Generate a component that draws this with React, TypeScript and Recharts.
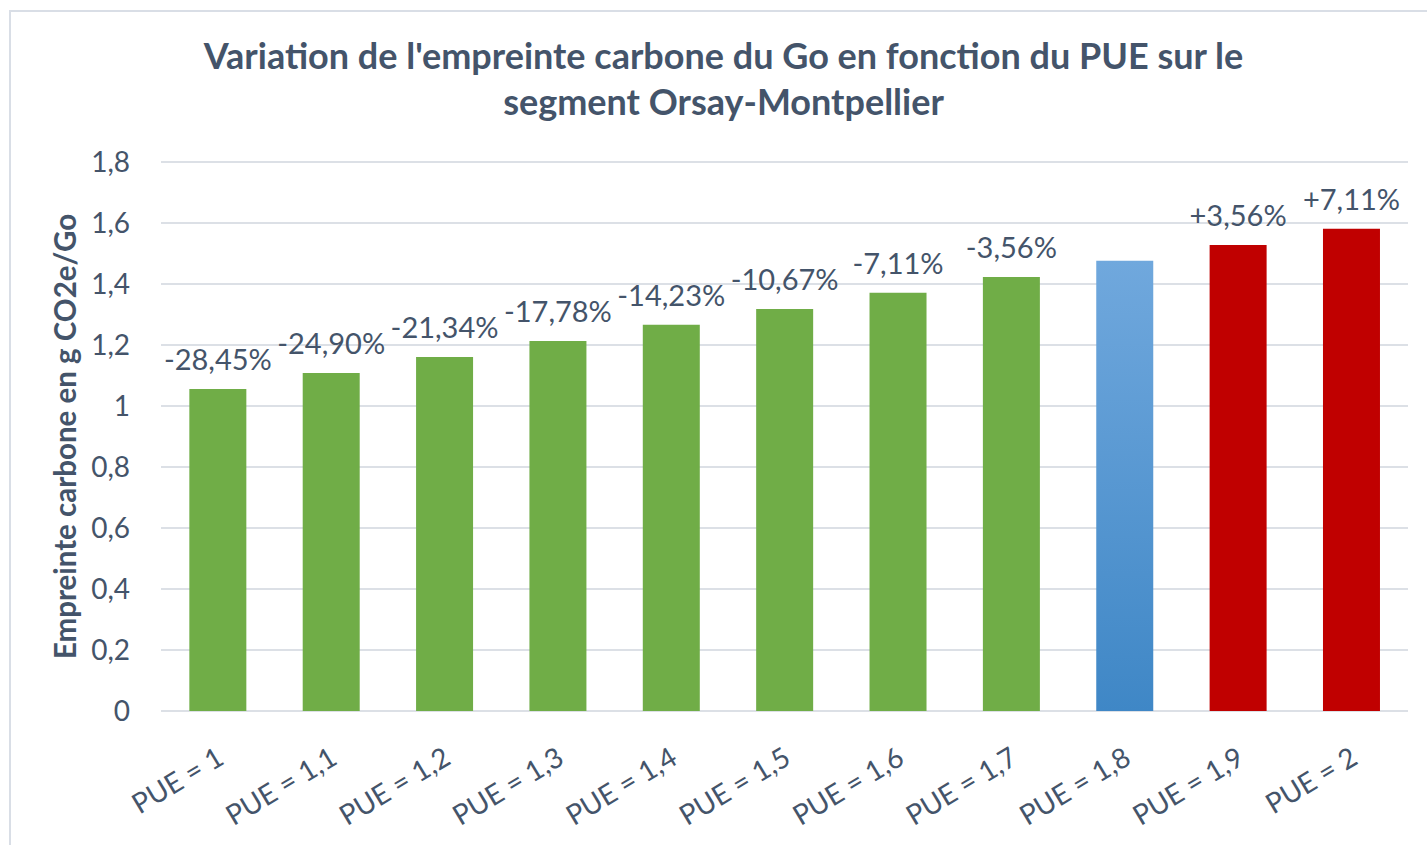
import React from "react";
import { Bar, BarChart, CartesianGrid, Cell, LabelList, XAxis, YAxis } from "recharts";

const categories = [
  "PUE = 1",
  "PUE = 1,1",
  "PUE = 1,2",
  "PUE = 1,3",
  "PUE = 1,4",
  "PUE = 1,5",
  "PUE = 1,6",
  "PUE = 1,7",
  "PUE = 1,8",
  "PUE = 1,9",
  "PUE = 2",
];
const footprint = [1.056, 1.108, 1.161, 1.213, 1.266, 1.318, 1.371, 1.423, 1.476, 1.528, 1.581];
const variations = [
  "-28,45%",
  "-24,90%",
  "-21,34%",
  "-17,78%",
  "-14,23%",
  "-10,67%",
  "-7,11%",
  "-3,56%",
  "",
  "+3,56%",
  "+7,11%",
];
const yTicks = [0, 0.2, 0.4, 0.6, 0.8, 1, 1.2, 1.4, 1.6, 1.8];
const referenceCategory = "PUE = 1,8";

const data = categories.map((name, i) => ({
  name,
  value: footprint[i],
  variation: variations[i],
}));

const TEXT = "#44546A";
const FONT = "Lato, 'Open Sans', sans-serif";
const refIndex = categories.indexOf(referenceCategory);

const barFill = (i: number) =>
  i < refIndex ? "#70AD47" : i === refIndex ? "url(#refGradient)" : "#C00000";

const frFormat = (v: number) => String(Math.round(v * 10) / 10).replace(".", ",");

function XTick({ x, y, payload }: any) {
  return (
    <g transform={`translate(${x + 8},${y + 44})`}>
      <text x={0} y={0} textAnchor="end" transform="rotate(-31)" fill={TEXT} fontSize={28} fontFamily={FONT}>
        {payload.value}
      </text>
    </g>
  );
}

function YTitle({ viewBox }: any) {
  const cy = viewBox.y + viewBox.height / 2;
  return (
    <text
      x={53}
      y={cy}
      transform={`rotate(-90, 53, ${cy})`}
      textAnchor="middle"
      dominantBaseline="central"
      fill={TEXT}
      fontSize={29.5}
      fontWeight="bold"
      fontFamily={FONT}
    >
      Empreinte carbone en g CO2e/Go
    </text>
  );
}

export default function App() {
  return (
    <div
      style={{
        position: "absolute",
        left: 9,
        top: 10,
        width: 1430,
        height: 850,
        border: "2px solid #D9DEE6",
        background: "#fff",
        overflow: "hidden",
        fontFamily: FONT,
      }}
    >
      <div
        style={{
          position: "absolute",
          left: 0,
          top: 20,
          width: 1425,
          textAlign: "center",
          color: TEXT,
          fontSize: 36,
          fontWeight: "bold",
          lineHeight: "46px",
        }}
      >
        Variation de l'empreinte carbone du Go en fonction du PUE sur le
        <br />
        segment Orsay-Montpellier
      </div>
      <div style={{ position: "absolute", left: 0, top: 0 }}>
        <BarChart
          width={1420}
          height={830}
          data={data}
          margin={{ top: 150, right: 23, bottom: 0, left: 0 }}
          barCategoryGap="25%"
        >
          <defs>
            <linearGradient id="refGradient" x1="0" y1="0" x2="0" y2="1">
              <stop offset="0%" stopColor="#70A8DD" />
              <stop offset="100%" stopColor="#3F87C6" />
            </linearGradient>
          </defs>
          <CartesianGrid vertical={false} stroke="#DCE0E6" strokeWidth={2} />
          <XAxis
            dataKey="name"
            height={131}
            axisLine={false}
            tickLine={false}
            interval={0}
            tick={<XTick />}
          />
          <YAxis
            width={150}
            domain={[0, 1.8]}
            ticks={yTicks}
            axisLine={false}
            tickLine={false}
            tickSize={0}
            tickMargin={31}
            tickFormatter={frFormat}
            tick={{ fill: TEXT, fontSize: 28, fontFamily: FONT }}
            label={<YTitle />}
          />
          <Bar dataKey="value" isAnimationActive={false}>
            {data.map((_, i) => (
              <Cell key={`cell-${i}`} fill={barFill(i)} />
            ))}
            <LabelList
              dataKey="variation"
              position="top"
              offset={19}
              fill={TEXT}
              fontSize={29}
              fontFamily={FONT}
            />
          </Bar>
        </BarChart>
      </div>
    </div>
  );
}
